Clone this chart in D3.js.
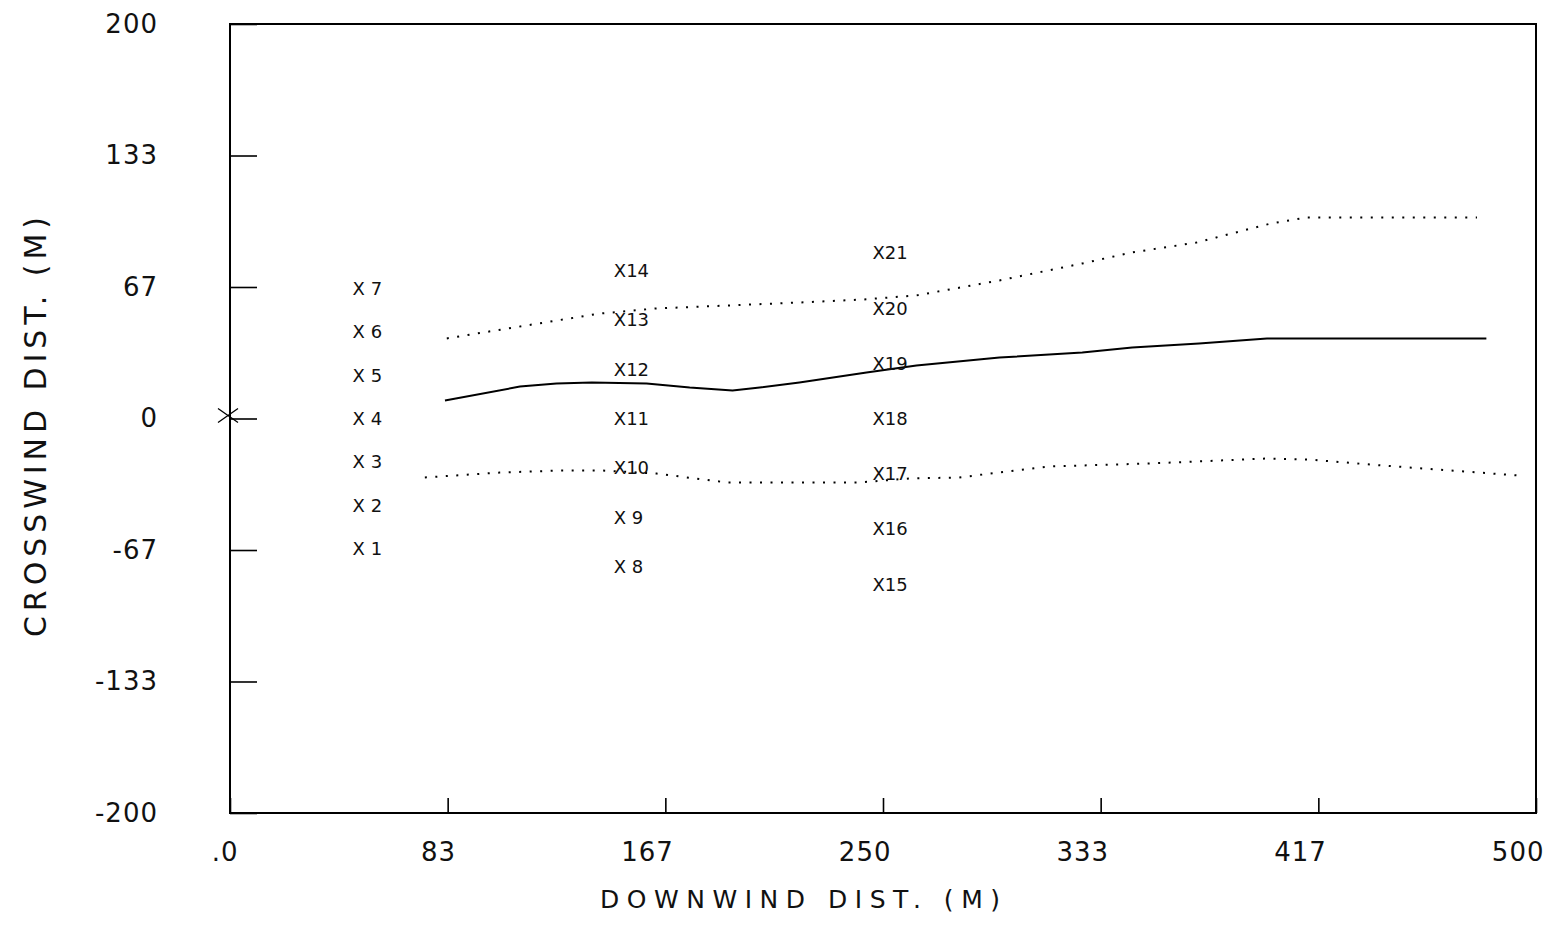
<!DOCTYPE html>
<html>
<head>
<meta charset="utf-8">
<script src="https://cdn.jsdelivr.net/npm/d3@7"></script>
<style>
  html, body { margin: 0; padding: 0; background: #fff; }
  svg { display: block; }
  text { font-family: "DejaVu Sans", sans-serif; fill: #111; }
</style>
</head>
<body>
<svg id="chart" width="1552" height="950"></svg>
<script>
// ---- data ----
const xTickValues = [0, 83.33, 166.67, 250, 333.33, 416.67, 500];
const xTickLabels = [".0", "83", "167", "250", "333", "417", "500"];
const yTickValues = [-200, -133.33, -66.67, 0, 66.67, 133.33, 200];
const yTickLabels = ["-200", "-133", "-67", "0", "67", "133", "200"];

// receptor labels (number, downwind x, crosswind y)
const receptorIds = [1,2,3,4,5,6,7, 8,9,10,11,12,13,14, 15,16,17,18,19,20,21];
const receptorX   = [50,50,50,50,50,50,50, 150,150,150,150,150,150,150, 249,249,249,249,249,249,249];
const receptorY   = [-66,-44,-22,0,22,44,66, -75,-50,-25,0,25,50,75, -84,-56,-28,0,28,56,84];

// plume centerline
const centerX = [82.3, 111, 125, 138.5, 159.5, 176, 192.4, 202.8, 218, 243.7, 262.8, 294.6, 326.3, 345.4, 371, 397, 481];
const centerY = [9.1, 16.2, 17.7, 18.3, 17.7, 15.7, 14.2, 15.7, 18.3, 23.3, 26.9, 30.9, 33.5, 36, 38, 40.6, 40.6];

// upper plume edge
const upperX = [83, 141.5, 163.3, 218, 242, 262.8, 294.6, 326.3, 345.4, 370, 377.6, 398.6, 412, 477.4];
const upperY = [40.6, 53.2, 55.8, 58.8, 60.3, 62.4, 70, 78.6, 84.2, 89.2, 91.8, 98.9, 101.9, 101.9];

// lower plume edge
const lowerX = [74.6, 103.3, 126, 142.7, 163.3, 190, 241, 260, 279, 313.7, 352, 396.7, 413, 441, 493.5];
const lowerY = [-29.9, -27.4, -26.4, -26.4, -27.9, -32.4, -32.4, -30.4, -29.9, -24.3, -22.8, -20.3, -20.8, -23.8, -28.9];

// source location
const sourceX = [0];
const sourceY = [0];

// ---- drawing ----
(function () {
const svg = d3.select("#chart");
const pL = 230, pR = 1536, pT = 24, pB = 813;
const x = d3.scaleLinear().domain([0, 500]).range([pL, pR]);
const y = d3.scaleLinear().domain([-200, 200]).range([pB, pT]);

// frame
svg.append("rect")
  .attr("x", pL).attr("y", pT)
  .attr("width", pR - pL).attr("height", pB - pT)
  .attr("fill", "none").attr("stroke", "#000").attr("stroke-width", 2);

// y axis
const yAxis = d3.axisLeft(y)
  .tickValues(yTickValues)
  .tickFormat((d, i) => yTickLabels[i])
  .tickSize(-27)
  .tickPadding(72);
const gy = svg.append("g").attr("transform", `translate(${pL},0)`).call(yAxis);
gy.select(".domain").remove();
gy.selectAll(".tick line").attr("stroke", "#000").attr("stroke-width", 1.6);
gy.selectAll(".tick text")
  .style("font-family", "DejaVu Sans, sans-serif")
  .style("font-size", "26px")
  .style("letter-spacing", "1px")
  .attr("fill", "#111");

// x axis
const xAxis = d3.axisBottom(x)
  .tickValues(xTickValues)
  .tickFormat((d, i) => xTickLabels[i])
  .tickSize(-15)
  .tickPadding(30);
const gx = svg.append("g").attr("transform", `translate(0,${pB})`).call(xAxis);
gx.select(".domain").remove();
gx.selectAll(".tick line").attr("stroke", "#000").attr("stroke-width", 1.6);
gx.selectAll(".tick text")
  .attr("text-anchor", "end")
  .attr("x", 8)
  .style("font-family", "DejaVu Sans, sans-serif")
  .style("font-size", "26px")
  .style("letter-spacing", "1px")
  .attr("fill", "#111");

// axis titles
svg.append("text")
  .attr("x", 600).attr("y", 908)
  .attr("textLength", 400).attr("lengthAdjust", "spacing")
  .style("font-size", "25px")
  .text("DOWNWIND DIST.  (M)");

svg.append("text")
  .attr("transform", "translate(46,637) rotate(-90)")
  .attr("textLength", 420).attr("lengthAdjust", "spacing")
  .style("font-size", "30px")
  .text("CROSSWIND DIST.  (M)");

// lines
const line = d3.line().x(d => x(d[0])).y(d => y(d[1]));
const centerData = centerX.map((v, i) => [v, centerY[i]]);
const upperData = upperX.map((v, i) => [v, upperY[i]]);
const lowerData = lowerX.map((v, i) => [v, lowerY[i]]);

svg.append("path").datum(centerData)
  .attr("d", line).attr("fill", "none")
  .attr("stroke", "#000").attr("stroke-width", 2);

[upperData, lowerData].forEach(dat => {
  svg.append("path").datum(dat)
    .attr("d", line).attr("fill", "none")
    .attr("stroke", "#000").attr("stroke-width", 2)
    .attr("stroke-dasharray", "2,8.5");
});

// receptor labels
const receptors = receptorIds.map((id, i) => ({ id, x: receptorX[i], y: receptorY[i] }));
svg.append("g").selectAll("text").data(receptors).enter().append("text")
  .attr("x", d => x(d.x) - 8)
  .attr("y", d => y(d.y))
  .attr("dy", "0.36em")
  .style("font-size", "18px")
  .style("white-space", "pre")
  .attr("xml:space", "preserve")
  .text(d => "X" + String(d.id).padStart(2, " "));

// source marker
svg.append("g").selectAll("path").data(sourceX.map((v, i) => [v, sourceY[i]])).enter()
  .append("path")
  .attr("transform", d => `translate(${x(d[0]) - 2},${y(d[1]) - 3})`)
  .attr("d", "M-10,-7 L10,7 M-10,7 L10,-7")
  .attr("fill", "none").attr("stroke", "#000").attr("stroke-width", 1.3);
})();
</script>
</body>
</html>
